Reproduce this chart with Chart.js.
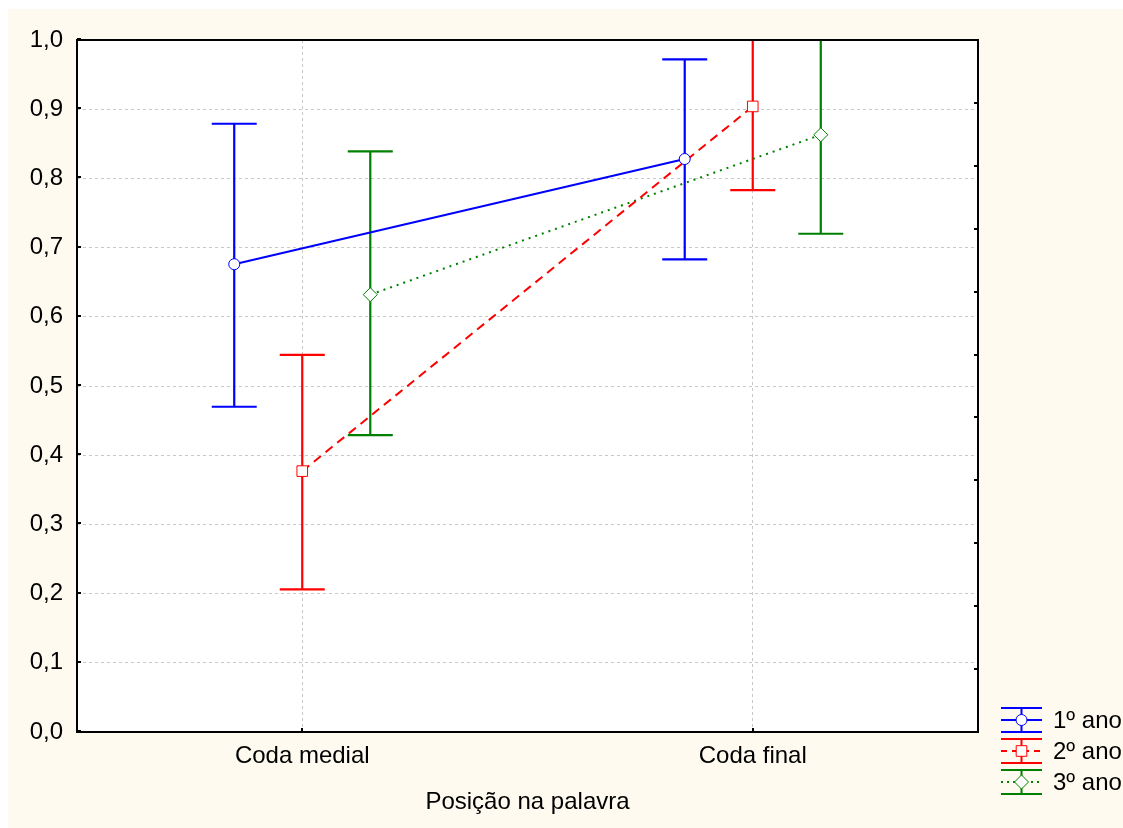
<!DOCTYPE html>
<html>
<head>
<meta charset="utf-8">
<script src="https://cdn.jsdelivr.net/npm/chart.js@4/dist/chart.umd.min.js"></script>
<style>
  html, body { margin: 0; padding: 0; background: #ffffff; }
  #wrap { position: absolute; left: 0; top: 0; width: 1123px; height: 828px; }
</style>
</head>
<body>
<div id="wrap"><canvas id="chart" width="1123" height="828"></canvas></div>
<script>
// categories on the x axis
const categories = ["Coda medial", "Coda final"];
const seriesNames = ["1º ano", "2º ano", "3º ano"];

// means and confidence limits
const means1 = [0.676, 0.828];
const lower1 = [0.470, 0.683];
const upper1 = [0.879, 0.972];

const means2 = [0.377, 0.904];
const lower2 = [0.206, 0.783];
const upper2 = [0.545, 1.025];

const means3 = [0.632, 0.863];
const lower3 = [0.429, 0.720];
const upper3 = [0.839, 1.006];

const yTicks = [0, 0.1, 0.2, 0.3, 0.4, 0.5, 0.6, 0.7, 0.8, 0.9, 1.0];

const COLORS = ["#0000ff", "#ff0000", "#008000"];
const OFFSETS = [-0.151, 0, 0.151];
const FONT = "'Liberation Sans', Arial, sans-serif";
const FONT_SIZE = 24;
const CREAM = "rgb(254,250,239)";

function buildPoints(means, lows, highs, s) {
  return means.map((m, i) => ({ x: i + 1 + OFFSETS[s], y: m, lo: lows[i], hi: highs[i] }));
}

const allMeans = [means1, means2, means3];
const allLows = [lower1, lower2, lower3];
const allHighs = [upper1, upper2, upper3];

const datasets = seriesNames.map((name, s) => ({
  label: name,
  data: buildPoints(allMeans[s], allLows[s], allHighs[s], s),
  showLine: true,
  borderColor: COLORS[s],
  backgroundColor: "#ffffff",
  borderWidth: 2,
  borderDash: s === 0 ? [] : (s === 1 ? [9, 6] : [2, 5]),
  pointStyle: ["circle", "rect", "rectRot"][s],
  pointRadius: [5.5, 7.5, 7][s],
  pointBorderWidth: 1,
  pointBackgroundColor: "#ffffff",
  pointBorderColor: COLORS[s],
  clip: false
}));

// cream background behind everything
const backgroundPlugin = {
  id: "background",
  beforeDraw(chart) {
    const ctx = chart.ctx;
    ctx.save();
    ctx.fillStyle = CREAM;
    ctx.fillRect(8, 9, chart.width - 8, chart.height - 9);
    const a = chart.chartArea;
    ctx.fillStyle = "#ffffff";
    ctx.fillRect(a.left, a.top, a.right - a.left, a.bottom - a.top);
    ctx.restore();
  }
};

// error bars, drawn under the lines and markers
const errorBarPlugin = {
  id: "errorBars",
  beforeDatasetsDraw(chart) {
    const ctx = chart.ctx;
    const a = chart.chartArea;
    const xs = chart.scales.x, ys = chart.scales.y;
    ctx.save();
    ctx.beginPath();
    ctx.rect(a.left, a.top, a.right - a.left, a.bottom - a.top);
    ctx.clip();
    chart.data.datasets.forEach((ds, s) => {
      ctx.strokeStyle = COLORS[s];
      ctx.lineWidth = 2.2;
      ds.data.forEach(p => {
        const x = xs.getPixelForValue(p.x);
        const yl = ys.getPixelForValue(p.lo);
        const yh = ys.getPixelForValue(p.hi);
        ctx.beginPath();
        ctx.moveTo(x, yl); ctx.lineTo(x, yh);
        ctx.moveTo(x - 22.5, yl); ctx.lineTo(x + 22.5, yl);
        ctx.moveTo(x - 22.5, yh); ctx.lineTo(x + 22.5, yh);
        ctx.stroke();
      });
    });
    ctx.restore();
  }
};

// frame, inward ticks and legend
const framePlugin = {
  id: "frame",
  afterDraw(chart) {
    const ctx = chart.ctx;
    const a = chart.chartArea;
    const xs = chart.scales.x, ys = chart.scales.y;
    ctx.save();
    ctx.strokeStyle = "#000000";
    ctx.lineWidth = 2;
    ctx.strokeRect(a.left, a.top, a.right - a.left, a.bottom - a.top);

    ctx.beginPath();
    yTicks.forEach(v => {
      const y = Math.round(ys.getPixelForValue(v)) - 1;
      ctx.moveTo(a.left, y); ctx.lineTo(a.left + 4, y);
    });
    for (let i = 1; i < 11; i++) {
      const y = Math.round(ys.getPixelForDecimal(i / 11));
      ctx.moveTo(a.right, y); ctx.lineTo(a.right - 4, y);
    }
    categories.forEach((c, i) => {
      const x = Math.round(xs.getPixelForValue(i + 1));
      ctx.moveTo(x, a.bottom); ctx.lineTo(x, a.bottom - 4);
    });
    ctx.stroke();

    // legend
    const lx = 1001, lw = 41, rows = [720, 751, 782];
    chart.data.datasets.forEach((ds, s) => {
      const cy = rows[s];
      ctx.strokeStyle = COLORS[s];
      ctx.lineWidth = 2;
      ctx.setLineDash([]);
      ctx.beginPath();
      ctx.moveTo(lx, cy - 12); ctx.lineTo(lx + lw, cy - 12);
      ctx.moveTo(lx, cy + 12); ctx.lineTo(lx + lw, cy + 12);
      ctx.moveTo(lx + lw / 2, cy - 12); ctx.lineTo(lx + lw / 2, cy + 12);
      ctx.stroke();
      ctx.setLineDash(ds.borderDash.length ? (s === 1 ? [6, 5] : [2, 4]) : []);
      ctx.beginPath();
      ctx.moveTo(lx, cy); ctx.lineTo(lx + lw, cy);
      ctx.stroke();
      ctx.setLineDash([]);
      ctx.lineWidth = 1;
      ctx.fillStyle = "#ffffff";
      ctx.strokeStyle = COLORS[s];
      Chart.helpers.drawPoint(ctx, {
        pointStyle: ds.pointStyle, radius: ds.pointRadius, borderWidth: 1
      }, lx + lw / 2, cy);
      ctx.fillStyle = "#000000";
      ctx.font = FONT_SIZE + "px " + FONT;
      ctx.textBaseline = "middle";
      ctx.textAlign = "left";
      ctx.fillText(ds.label, 1053, cy + 1);
    });
    ctx.restore();
  }
};

const ctx = document.getElementById("chart");
new Chart(ctx, {
  type: "scatter",
  data: { datasets: datasets },
  options: {
    responsive: false,
    animation: false,
    layout: { padding: { left: 0, top: 40, right: 145, bottom: 0 } },
    plugins: { legend: { display: false }, tooltip: { enabled: false } },
    scales: {
      x: {
        type: "linear",
        min: 0.5,
        max: 2.5,
        afterBuildTicks: scale => { scale.ticks = categories.map((c, i) => ({ value: i + 1 })); },
        afterFit: scale => { scale.height = 96; },
        ticks: {
          callback: v => categories[v - 1] || "",
          color: "#000000",
          font: { family: FONT, size: FONT_SIZE },
          padding: 10,
          maxRotation: 0
        },
        grid: { color: "#c8c8c8", lineWidth: 1, drawTicks: false },
        border: { display: false, dash: [3, 3] },
        title: {
          display: true,
          text: "Posição na palavra",
          color: "#000000",
          font: { family: FONT, size: FONT_SIZE },
          padding: { top: 0, bottom: 11 }
        }
      },
      y: {
        min: 0,
        max: 1,
        afterBuildTicks: scale => { scale.ticks = yTicks.map(v => ({ value: v })); },
        afterFit: scale => { scale.width = 77; },
        ticks: {
          callback: v => v.toFixed(1).replace(".", ","),
          color: "#000000",
          font: { family: FONT, size: FONT_SIZE },
          padding: 14
        },
        grid: { color: "#c8c8c8", lineWidth: 1, drawTicks: false },
        border: { display: false, dash: [3, 3] }
      }
    }
  },
  plugins: [backgroundPlugin, errorBarPlugin, framePlugin]
});
</script>
</body>
</html>
